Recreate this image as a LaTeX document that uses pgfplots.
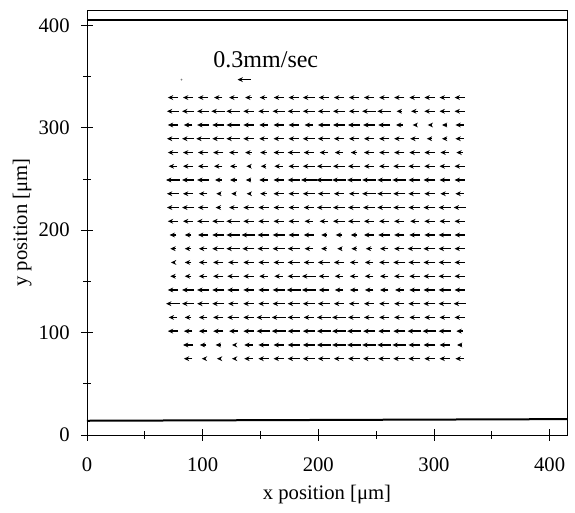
\documentclass[border=0pt]{standalone}
\usepackage{pgfplots}
\pgfplotsset{compat=1.18}
\usepackage{pgfplotstable}
\usetikzlibrary{arrows.meta}
\usepackage{fontspec}
\setmainfont{Liberation Serif}

% speed (mm/s) of each vector; rows = y position, columns c0..c19 = x positions
\pgfplotstableread{
y c0 c1 c2 c3 c4 c5 c6 c7 c8 c9 c10 c11 c12 c13 c14 c15 c16 c17 c18 c19
329.5 0.23 0.23 0.23 0.19 0.19 0.15 0.17 0.22 0.23 0.27 0.23 0.23 0.23 0.23 0.23 0.23 0.23 0.23 0.23 0.23
316.1 0.27 0.27 0.27 0.31 0.31 0.23 0.23 0.27 0.27 0.27 0.27 0.27 0.23 0.31 0.31 0.12 0.15 0.23 0.23 0.23
302.7 0.23 0.19 0.27 0.27 0.31 0.23 0.19 0.23 0.23 0.19 0.27 0.27 0.27 0.27 0.27 0.15 0.08 0.08 0.12 0.19
289.3 0.27 0.27 0.31 0.27 0.31 0.23 0.19 0.23 0.23 0.27 0.27 0.23 0.23 0.23 0.23 0.23 0.19 0.12 0.12 0.19
275.8 0.23 0.23 0.23 0.23 0.19 0.15 0.15 0.23 0.27 0.23 0.19 0.19 0.15 0.23 0.23 0.23 0.23 0.23 0.19 0.15
262.4 0.19 0.23 0.23 0.19 0.15 0.09 0.12 0.19 0.23 0.27 0.31 0.27 0.27 0.23 0.23 0.27 0.27 0.23 0.23 0.23
249.0 0.31 0.27 0.27 0.15 0.15 0.12 0.19 0.23 0.27 0.35 0.35 0.31 0.31 0.31 0.31 0.31 0.27 0.27 0.23 0.23
235.6 0.27 0.23 0.19 0.09 0.09 0.08 0.15 0.23 0.23 0.27 0.27 0.23 0.23 0.31 0.31 0.27 0.27 0.23 0.19 0.19
222.1 0.27 0.27 0.23 0.12 0.19 0.23 0.23 0.23 0.23 0.23 0.31 0.27 0.27 0.27 0.31 0.27 0.27 0.27 0.27 0.27
208.7 0.23 0.23 0.27 0.27 0.31 0.23 0.23 0.23 0.23 0.19 0.19 0.27 0.27 0.23 0.23 0.23 0.19 0.23 0.23 0.23
195.3 0.15 0.15 0.23 0.27 0.31 0.31 0.27 0.27 0.23 0.23 0.12 0.15 0.15 0.23 0.27 0.23 0.23 0.23 0.27 0.23
181.9 0.12 0.15 0.19 0.27 0.31 0.27 0.27 0.27 0.27 0.19 0.12 0.08 0.12 0.15 0.19 0.23 0.31 0.27 0.27 0.23
168.5 0.09 0.15 0.19 0.23 0.23 0.23 0.23 0.23 0.27 0.23 0.27 0.23 0.19 0.19 0.23 0.27 0.27 0.27 0.27 0.23
155.0 0.12 0.15 0.19 0.23 0.27 0.23 0.19 0.19 0.27 0.31 0.23 0.19 0.19 0.19 0.19 0.23 0.23 0.27 0.27 0.23
141.6 0.23 0.27 0.27 0.27 0.27 0.23 0.23 0.27 0.31 0.31 0.23 0.19 0.19 0.19 0.19 0.19 0.23 0.27 0.27 0.23
128.2 0.31 0.27 0.27 0.27 0.23 0.23 0.23 0.27 0.27 0.27 0.27 0.23 0.23 0.23 0.23 0.23 0.27 0.27 0.27 0.27
114.8 0.19 0.15 0.19 0.23 0.27 0.23 0.31 0.31 0.27 0.23 0.31 0.31 0.27 0.23 0.23 0.23 0.23 0.23 0.23 0.23
101.4 0.23 0.19 0.19 0.23 0.19 0.23 0.31 0.31 0.27 0.27 0.31 0.31 0.31 0.27 0.27 0.27 0.31 0.31 0.27 0.15
87.9 nan 0.23 0.15 0.12 0.06 0.19 0.23 0.23 0.27 0.27 0.31 0.31 0.31 0.31 0.31 0.31 0.27 0.27 0.23 0.12
74.5 nan 0.19 0.06 0.06 0.06 0.19 0.23 0.23 0.27 0.27 0.27 0.23 0.27 0.27 0.27 0.27 0.27 0.23 0.23 0.19
}\field

\newcommand{\vcol}[2]{%
  \addplot[vec, quiver={u=-\thisrow{#2}*38.3, v=0}]
    table[x expr={#1+\thisrow{#2}*19.15}, y=y] {\field};}

\begin{document}
\begin{tikzpicture}
\path[use as bounding box] (-65.25pt,-58.5pt) rectangle (366pt,326.25pt);
\begin{axis}[
  scale only axis, width=360pt, height=318.75pt,
  xmin=0, xmax=415, ymin=0, ymax=415,
  xtick={0,100,200,300,400}, ytick={0,100,200,300,400},
  minor tick num=1,
  tick align=center, tick pos=left,
  major tick length=9pt, minor tick length=5.5pt,
  tick style={black, line width=0.6pt},
  axis line style={line width=0.6pt},
  /pgf/number format/assume math mode=true,
  ticklabel style={font=\fontsize{15.5}{18}\selectfont},
  xticklabel style={yshift=-9pt},
  yticklabel style={xshift=-5pt},
  label style={font=\fontsize{15.5}{18}\selectfont},
  xlabel={x position [μm]},
  ylabel={y position [μm]},
  xlabel style={at={(axis description cs:0.5,-0.14)}, anchor=center},
  ylabel style={at={(axis description cs:-0.135,0.5)}, anchor=center},
  clip=false,
  vec/.style={black, line width=1pt, -{Stealth[length=4pt,width=3.6pt]}},
]
% channel walls
\addplot[black, line width=1.5pt] coordinates {(0,405.6) (415,405.6)};
\addplot[black, line width=1.5pt] coordinates {(0,13.9) (415,15.5)};

\vcol{74.3}{c0}
\vcol{87.4}{c1}
\vcol{100.4}{c2}
\vcol{113.5}{c3}
\vcol{126.5}{c4}
\vcol{139.6}{c5}
\vcol{152.6}{c6}
\vcol{165.7}{c7}
\vcol{178.7}{c8}
\vcol{191.8}{c9}
\vcol{204.8}{c10}
\vcol{217.9}{c11}
\vcol{230.9}{c12}
\vcol{243.9}{c13}
\vcol{257.0}{c14}
\vcol{270.0}{c15}
\vcol{283.1}{c16}
\vcol{296.1}{c17}
\vcol{309.2}{c18}
\vcol{322.2}{c19}

% reference vector 0.3 mm/s
\addplot[vec, quiver={u=-0.3*38.3, v=0}] coordinates {(141.6,347)};
\addplot[only marks, mark=*, mark size=0.4pt, gray] coordinates {(81.7,347)};
\node[anchor=base, font=\fontsize{18}{21}\selectfont] at (axis cs:154.6,359.3) {0.3mm/sec};
\end{axis}
\end{tikzpicture}
\end{document}
